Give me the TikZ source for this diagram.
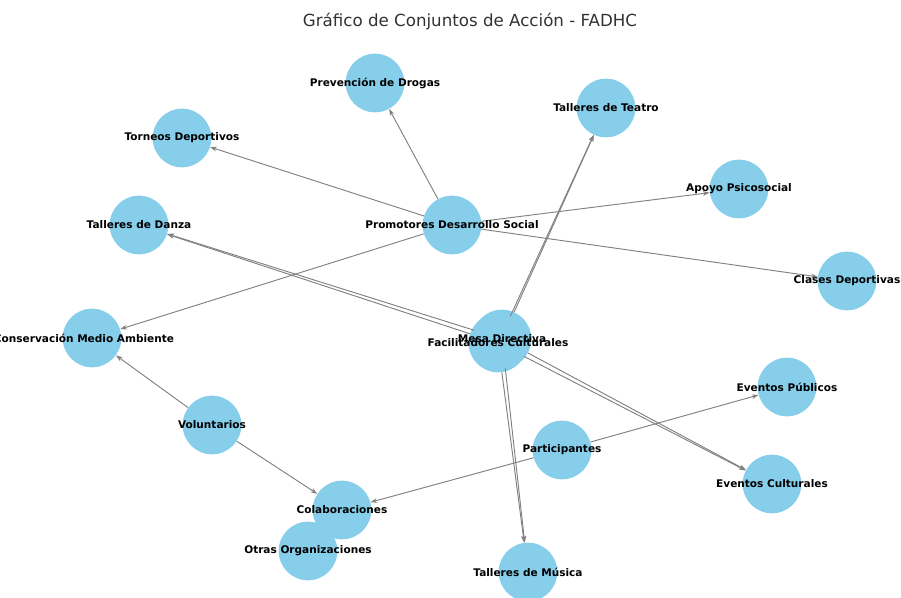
\documentclass[tikz,border=0pt]{standalone}
\usepackage{fontspec}
\setmainfont{DejaVu Sans}
\usetikzlibrary{arrows.meta}
\definecolor{skyblue}{RGB}{135,206,235}
\definecolor{edgegray}{RGB}{128,128,128}
\definecolor{titlegray}{RGB}{50,50,50}
\begin{document}
\begin{tikzpicture}[x=0.75pt,y=-0.75pt]
\tikzset{ent/.style={circle, fill=skyblue, minimum size=44pt, inner sep=0pt}}
\tikzset{lbl/.style={font=\bfseries\fontsize{7.9}{9}\selectfont, text=black, inner sep=0pt}}
\tikzset{rel/.style={draw=edgegray, line width=0.7pt, -{Stealth[length=5pt,width=3.5pt]}}}
\clip (0,0) rectangle (901,598);
\useasboundingbox (0,0) rectangle (901,598);

\node[font=\fontsize{12.5}{15}\selectfont, text=titlegray] (title) at (470,22) {Gráfico de Conjuntos de Acción - FADHC};

\node[ent] (prev) at (375,83) {};
\node[ent] (teatro) at (606,108) {};
\node[ent] (torneos) at (182,138) {};
\node[ent] (apoyo) at (739,189) {};
\node[ent] (danza) at (139,225) {};
\node[ent] (prom) at (452,225) {};
\node[ent] (clases) at (847,281) {};
\node[ent] (conserv) at (92,338) {};
\node[ent] (mesa) at (502,339) {};
\node[ent] (facil) at (498,343) {};
\node[ent] (evpub) at (787,387) {};
\node[ent] (volunt) at (212,425) {};
\node[ent] (partic) at (562,450) {};
\node[ent] (evcult) at (772,484) {};
\node[ent] (colab) at (342,510) {};
\node[ent] (otras) at (308,551) {};
\node[ent] (musica) at (528,572) {};

\draw[rel] (prom) -- (prev);
\draw[rel] (prom) -- (torneos);
\draw[rel] (prom) -- (apoyo);
\draw[rel] (prom) -- (clases);
\draw[rel] (prom) -- (conserv);
\foreach \src in {mesa,facil}
  \foreach \dst in {teatro,danza,musica,evcult}
    \draw[rel] (\src) -- (\dst);
\draw[rel] (volunt) -- (conserv);
\draw[rel] (volunt) -- (colab);
\draw[rel] (partic) -- (evpub);
\draw[rel] (partic) -- (colab);

\node[lbl] (t-prev) at (prev) {Prevención de Drogas};
\node[lbl] (t-teatro) at (teatro) {Talleres de Teatro};
\node[lbl] (t-torneos) at (torneos) {Torneos Deportivos};
\node[lbl] (t-apoyo) at (apoyo) {Apoyo Psicosocial};
\node[lbl] (t-danza) at (danza) {Talleres de Danza};
\node[lbl] (t-prom) at (prom) {Promotores Desarrollo Social};
\node[lbl] (t-clases) at (clases) {Clases Deportivas};
\node[lbl] (t-conserv) at ([xshift=-6]conserv) {Conservación Medio Ambiente};
\node[lbl] (t-mesa) at (mesa) {Mesa Directiva};
\node[lbl] (t-facil) at (facil) {Facilitadores Culturales};
\node[lbl] (t-evpub) at (evpub) {Eventos Públicos};
\node[lbl] (t-volunt) at (volunt) {Voluntarios};
\node[lbl] (t-partic) at (partic) {Participantes};
\node[lbl] (t-evcult) at (evcult) {Eventos Culturales};
\node[lbl] (t-colab) at (colab) {Colaboraciones};
\node[lbl] (t-otras) at (otras) {Otras Organizaciones};
\node[lbl] (t-musica) at (musica) {Talleres de Música};
\end{tikzpicture}
\end{document}
